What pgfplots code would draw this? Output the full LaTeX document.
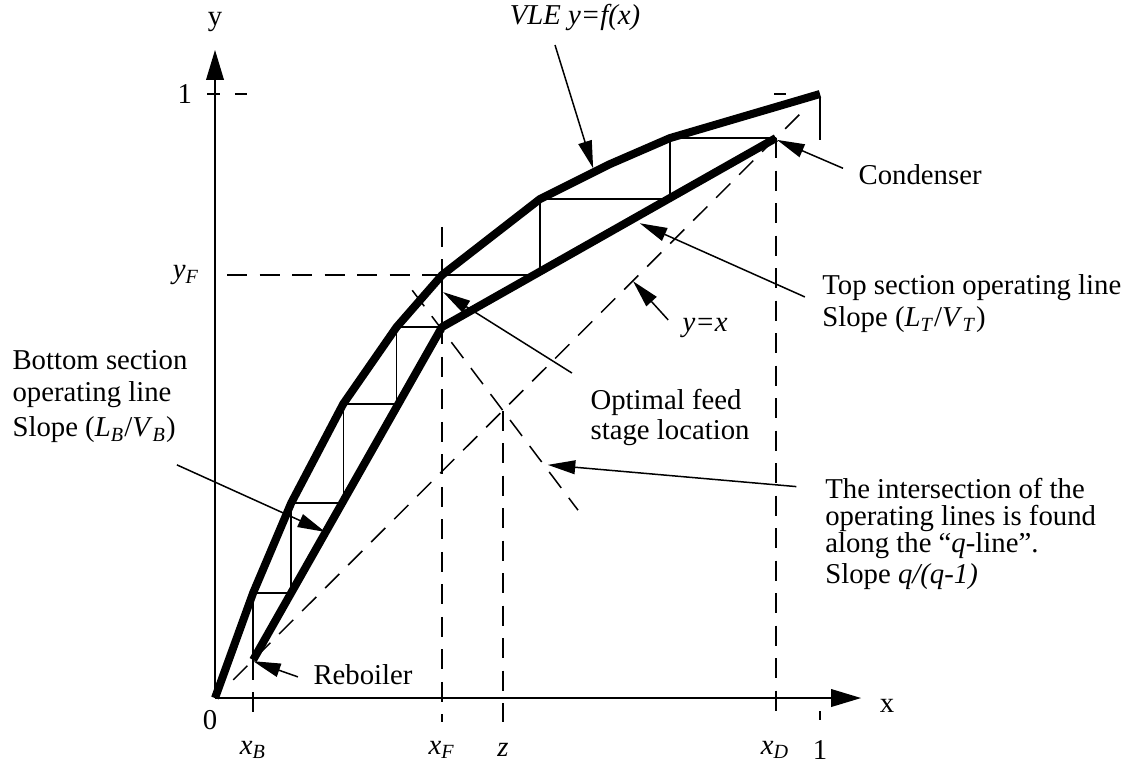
\documentclass[border=0pt]{standalone}
\usepackage{pgfplots}
\pgfplotsset{compat=1.18}
\usepackage{pgfplotstable}
\usepackage{fontspec}
\setmainfont{Liberation Serif}
\usetikzlibrary{arrows.meta}

\newcommand{\isub}[2]{\textit{#1}\textsubscript{\textit{#2}}}

% equilibrium curve y = f(x)
\pgfplotstableread{
x      y
0      0
0.063  0.174
0.126  0.323
0.212  0.487
0.300  0.614
0.375  0.700
0.537  0.826
0.653  0.884
0.752  0.927
1.000  1.000
}\vle

% operating lines (bottom + top)
\pgfplotstableread{
x      y
0.063  0.063
0.375  0.614
0.927  0.927
}\oplines

% stage stepping from condenser to reboiler
\pgfplotstableread{
x      y
0.927  0.927
0.752  0.927
0.752  0.826
0.537  0.826
0.537  0.700
0.375  0.700
0.375  0.614
0.300  0.614
0.300  0.487
0.212  0.487
0.212  0.323
0.126  0.323
0.126  0.174
0.063  0.174
0.063  0.063
}\stages

\begin{document}
\begin{tikzpicture}[font=\fontsize{11.5}{13.5}\selectfont, every node/.style={inner sep=0pt}]
\begin{axis}[
    hide axis,
    scale only axis,
    width=452pt, height=306pt,
    xmin=-0.3554, xmax=1.5124,
    ymin=-0.1109, ymax=1.1556,
    clip=false,
    dsh/.style={black, line width=0.6pt, dash pattern=on 8pt off 5pt},
    ann/.style={black, line width=0.6pt, -{Triangle[length=11pt,width=5.5pt]}},
]
\path (axis cs:-0.3554,-0.1109) rectangle (axis cs:1.5124,1.1556);

% axes
\addplot[black, line width=0.8pt, -{Triangle[length=12pt,width=7pt]}] coordinates {(0,0) (1.068,0)};
\addplot[black, line width=0.8pt, -{Triangle[length=12pt,width=7pt]}] coordinates {(0,0) (0,1.073)};

% dashed guides
\addplot[dsh] coordinates {(0.03,0.03) (0.97,0.97)};
\addplot[dsh] coordinates {(0.326,0.675) (0.600,0.311)};
\addplot[dsh] coordinates {(0.063,0.063) (0.063,-0.04)};
\addplot[dsh] coordinates {(0.375,0.78) (0.375,-0.04)};
\addplot[dsh] coordinates {(0.476,0.476) (0.476,-0.04)};
\addplot[dsh] coordinates {(0.927,0.927) (0.927,-0.04)};
\addplot[dsh] coordinates {(0.02,0.700) (0.375,0.700)};
\addplot[black, line width=0.6pt] coordinates {(-0.013,1) (0.008,1)};
\addplot[black, line width=0.6pt] coordinates {(0.033,1) (0.053,1)};
\addplot[black, line width=0.6pt] coordinates {(0.924,1) (0.944,1)};
\addplot[black, line width=0.6pt] coordinates {(1,0.924) (1,0.995)};
\addplot[black, line width=0.6pt] coordinates {(1,-0.022) (1,-0.036)};

% stages
\addplot[black, line width=0.6pt] table[x=x, y=y] {\stages};

% operating lines and VLE
\addplot[black, line width=3.2pt, line join=round] table[x=x, y=y] {\oplines};
\addplot[black, line width=3.2pt, line join=round] table[x=x, y=y] {\vle};

% labels
\node at (axis cs:0,1.119) {y};
\node at (axis cs:-0.05,1.0) {1};
\node at (axis cs:-0.008,-0.036) {0};
\node at (axis cs:1.111,-0.013) {x};
\node at (axis cs:0.063,-0.086) {\isub{x}{B}};
\node at (axis cs:0.375,-0.086) {\isub{x}{F}};
\node at (axis cs:0.476,-0.086) {\textit{z}};
\node at (axis cs:0.926,-0.086) {\isub{x}{D}};
\node at (axis cs:1.0,-0.086) {1};
\node[anchor=east] at (axis cs:-0.025,0.700) {\isub{y}{F}};

% annotations
\node at (axis cs:0.595,1.126) {\textit{VLE y=f(x)}};
\addplot[ann] coordinates {(0.562,1.081) (0.625,0.877)};

\node[anchor=west] at (axis cs:1.063,0.866) {Condenser};
\addplot[ann] coordinates {(1.038,0.877) (0.929,0.924)};

\node[anchor=west] at (axis cs:1.003,0.680) {Top section operating line};
\node[anchor=west] at (axis cs:1.003,0.626) {Slope (\isub{L}{T}/\isub{V}{T})};
\addplot[ann] coordinates {(0.975,0.664) (0.702,0.786)};

\node at (axis cs:0.810,0.613) {\textit{y=x}};
\addplot[ann] coordinates {(0.749,0.626) (0.691,0.690)};

\node[anchor=west] at (axis cs:0.620,0.490) {Optimal feed};
\node[anchor=west] at (axis cs:0.620,0.440) {stage location};
\addplot[ann] coordinates {(0.590,0.538) (0.377,0.672)};

\node[anchor=west] at (axis cs:-0.3355,0.560) {Bottom section};
\node[anchor=west] at (axis cs:-0.3355,0.502) {operating line};
\node[anchor=west] at (axis cs:-0.3355,0.444) {Slope (\isub{L}{B}/\isub{V}{B})};
\addplot[ann] coordinates {(-0.063,0.386) (0.182,0.275)};

\node[anchor=west] at (axis cs:0.162,0.038) {Reboiler};
\addplot[ann] coordinates {(0.137,0.035) (0.063,0.061)};

\node[anchor=base west] at (axis cs:1.008,0.3295) {The intersection of the};
\node[anchor=base west] at (axis cs:1.008,0.2848) {operating lines is found};
\node[anchor=base west] at (axis cs:1.008,0.2401) {along the ``\textit{q}-line''.};
\node[anchor=base west] at (axis cs:1.008,0.1904) {Slope \textit{q/(q-1)}};
\addplot[ann] coordinates {(0.961,0.350) (0.550,0.386)};
\end{axis}
\end{tikzpicture}
\end{document}
